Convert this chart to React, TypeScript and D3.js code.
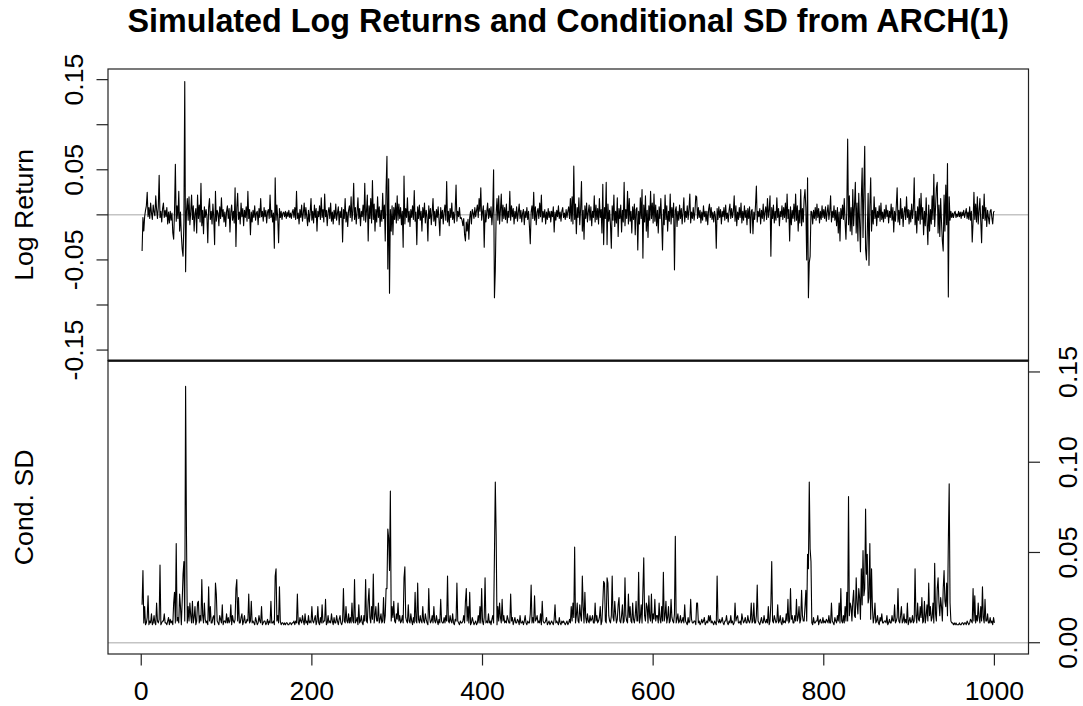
import React, { useEffect } from "react";
import * as d3 from "d3";

const chartTitle = "Simulated Log Returns and Conditional SD from ARCH(1)";
const topAxisTitle = "Log Return";
const bottomAxisTitle = "Cond. SD";
const xTicks = [0, 200, 400, 600, 800, 1000];
const returnTicks = [-0.15, -0.1, -0.05, 0, 0.05, 0.1, 0.15];
const returnTickLabels = ["-0.15", "", "-0.05", "", "0.05", "", "0.15"];
const sdTicks = [0, 0.05, 0.1, 0.15];
const sdTickLabels = ["0.00", "0.05", "0.10", "0.15"];

// simulated log returns, in units of 0.001 (t = 1..1000)
const logReturnPermille = [
  -40, -3, -18, -2, 5, 10, 25, -2, 8, -4, 13, 2, -5, 11, 3, -1, 21, 6, -4, 9, 44, -3, 4, -8, 7,
  13, -3, 5, -2, 8, -10, 3, -9, 4, -6, 2, -20, -27, 4, 56, -7, 10, -4, 26, -18, 3, -22, -38, -46, -8,
  148, -63, 4, 18, -6, 20, -11, 3, 22, -5, 10, -18, 2, 7, -20, 22, -4, 11, -8, 35, -12, 5, -21, 9, -3,
  6, -2, -31, 8, 18, -5, 4, -10, 12, -3, -33, 26, -7, 5, 2, -12, 9, -4, 19, -2, 6, -8, 3, -13, 4,
  10, -4, 7, -19, 3, 11, -6, 4, -9, 30, -35, 8, 24, -5, 3, -10, 13, -2, 7, -12, 5, -3, 9, -7, 26,
  -4, 6, -22, 3, -8, 5, -3, 10, -6, 2, 4, -11, 7, -3, 18, -2, 4, -7, 8, -2, 5, -9, 3, 6, -4,
  22, -3, 5, -8, 2, -37, 41, -6, 11, -4, -31, 7, -3, 4, -5, 2, 3, -2, 4, -4, 3, -2, 5, -3, 2,
  -4, 3, 6, -3, 8, -5, 26, -4, 2, -10, 6, -3, 11, -7, 2, 13, -4, 8, -2, -12, 5, -8, 3, 18, -6,
  4, -9, 11, -3, 7, -18, 4, -2, 10, -5, 19, -3, 6, -8, 23, -2, 5, -12, 3, 8, -4, 13, -7, 3, -10,
  5, -4, 12, -6, 2, 9, -11, 4, -3, 8, -30, 6, -4, 18, -8, 3, -13, 5, 10, -3, 20, -7, 4, 35, -5,
  8, -10, 3, 19, -4, 7, -12, 4, -2, 11, -6, 35, -8, 4, 22, -29, 10, -4, 18, -9, 38, -5, 12, -18, 6,
  -8, 20, -3, 9, -13, 5, -7, 24, -4, 11, -29, 30, 65, -60, 40, -87, 6, -18, 10, -22, 8, -5, 13, -9, 21,
  -6, 12, -4, 8, -11, 4, -36, 43, -10, 7, -3, 19, -8, 4, -13, 6, -3, 10, -5, 27, -7, 3, -33, 9, -4,
  11, -6, 4, -18, 8, -3, 13, -9, 5, -2, -29, 10, -4, 7, -11, 3, 18, -7, 4, -12, 6, -3, 9, -5, -23,
  8, -4, 5, -10, 3, 11, -6, 37, -8, 4, -12, 7, -3, 13, -5, 3, -9, 6, 33, -7, 4, -2, 8, -4, -3,
  -6, -12, -4, -22, -29, -8, -18, -5, -27, -3, 4, -10, 6, 2, -4, 8, -2, 5, 11, -3, 18, 4, 30, -6, 3,
  10, -36, 5, -8, 3, 13, -4, 7, -3, 9, -11, 4, 50, -92, -62, 2, 18, -6, 21, -10, 5, 23, -7, 11, -4,
  8, -5, 12, -9, 4, -3, 26, -6, 10, -2, 7, -10, 4, -4, 9, -7, 3, 12, -4, 5, -8, 2, 6, -11, 4,
  -3, 8, -5, 4, -13, -32, 3, 10, -4, 25, -6, 9, -11, 3, 7, -4, 13, -2, 22, -8, 4, -3, 6, -10, 3,
  -5, 7, -3, 4, -8, 4, -2, 9, -19, 3, -6, 5, -2, 10, -4, 3, -7, 4, 8, -3, 2, -5, 6, -3, 4,
  9, -4, 18, -7, 20, -10, 54, -5, 12, -21, 8, -3, 19, -11, 6, 37, -18, 5, -27, 10, -4, 13, -8, 3, 11,
  -6, 9, -12, 4, -3, 21, -8, 11, -5, 7, -10, 18, -3, 6, -20, 34, -33, 8, -4, 36, -33, 12, -7, 5, -11,
  -37, 10, -6, 22, -13, 4, -9, 19, -24, 7, -4, 11, -19, 5, -8, 36, -12, 6, -4, 26, -10, 18, -7, 4, -20,
  9, -5, 12, -22, 6, 8, -39, 4, -10, 19, -4, 28, -48, 11, -8, 21, -18, 5, -25, 10, -6, 26, -4, 13, -9,
  23, -7, 11, -12, 5, -20, 9, -4, 18, -8, -39, 6, -11, 22, -5, 10, -18, 4, -7, 23, -10, 8, -3, 13, -61,
  5, 9, -13, 4, -6, 11, -4, 7, -10, 3, 19, -8, 4, -3, 10, -5, 6, 23, -9, 3, -4, 8, -6, 3, 21,
  20, -4, 8, -3, 5, -9, 3, -6, 10, -2, 4, -7, 4, -11, 6, 12, -3, 8, -5, 3, -8, 4, -2, -37, 7,
  -5, 9, -3, 6, -10, 4, -2, 8, -6, 11, -4, 2, -8, 5, 12, -4, 7, -3, 4, 21, -7, 10, -12, 3, -5,
  8, -3, 13, -9, 4, -6, 10, -3, 5, -11, 7, -4, 9, -20, 4, 6, -21, 3, -5, 11, 32, -8, 4, -2, 7,
  -10, 5, -4, 12, -7, 3, 9, -5, 18, -3, 6, 21, -46, 8, -4, 11, -9, 4, -6, 19, -3, 7, -12, 4, -2,
  10, -5, 8, -3, 13, -8, 23, -4, 6, -29, 9, -11, 5, -4, 12, -7, 23, -6, 10, -18, 5, -9, 28, -12, 7,
  -8, 18, 28, 8, -50, 41, -92, -53, -46, 4, 3, -10, 5, -4, 8, -6, 12, -3, 7, -9, 4, -5, 10, -3, 6,
  -4, 9, -7, 3, 11, -5, 4, 21, -8, 4, -3, 10, -6, 5, -12, 8, -20, 3, -29, 7, -4, 11, -5, 18, -8,
  -27, 6, 84, -11, 21, -18, 8, -22, 28, -12, 10, 36, -20, 13, -29, 24, -9, -41, 19, 52, -25, 30, 76, -38, -50,
  -20, 24, -56, 9, 41, -18, 5, -10, 20, -4, 8, -12, 4, -3, 10, -7, 13, -5, 3, -8, 6, -4, 11, -2, 5,
  -9, 4, -3, 12, -6, 8, -19, 4, -7, 10, 30, -8, 5, -11, 18, -4, 7, -13, 3, 9, -5, 20, -3, 6, -10,
  5, -8, 12, -4, 7, 41, -11, 4, -20, 9, -6, 18, -10, 24, -5, 8, -22, 4, -12, 19, -7, -33, 11, -18, 6,
  -10, 21, -5, 45, -13, 8, 30, 36, -20, 11, -24, 18, -8, -29, -40, 22, -18, 33, -11, 57, -91, 20, -6, 4, -3,
  2, -3, 2, 4, -3, 1, -2, 4, -2, 3, -4, 3, -1, 5, -3, 2, 7, -4, 3, -5, 9, -6, 4, -30, -8,
  25, -5, 12, -8, 20, -10, 4, 18, -7, -31, 10, -4, 23, -6, 8, -13, 5, -3, -10, 4, 6, -3, -10, 3, 4,
];

// conditional standard deviation, in units of 0.001 (t = 1..1000)
const condSdPermille = [
  21, 40, 11, 20, 10, 11, 14, 26, 10, 12, 11, 16, 10, 11, 15, 11, 10, 22, 12, 11, 13, 43, 10, 11, 12,
  12, 16, 11, 11, 10, 12, 14, 10, 13, 11, 12, 10, 22, 28, 11, 55, 12, 14, 11, 27, 20, 10, 23, 38, 45,
  12, 142, 61, 11, 20, 12, 22, 15, 11, 23, 11, 14, 20, 10, 12, 22, 23, 11, 15, 12, 35, 15, 11, 22, 13,
  11, 12, 10, 31, 12, 20, 11, 11, 14, 15, 10, 33, 27, 12, 11, 10, 15, 13, 11, 21, 10, 12, 12, 11, 16,
  11, 14, 11, 12, 21, 10, 15, 12, 11, 13, 30, 35, 12, 25, 11, 11, 14, 16, 10, 12, 15, 11, 11, 13, 12,
  27, 11, 12, 23, 11, 12, 11, 10, 14, 12, 10, 11, 15, 12, 11, 20, 10, 11, 12, 12, 10, 11, 13, 10, 12,
  11, 23, 11, 11, 12, 10, 37, 41, 12, 15, 11, 31, 12, 10, 11, 11, 10, 11, 10, 11, 11, 10, 10, 11, 11,
  10, 11, 11, 12, 10, 12, 11, 27, 11, 10, 14, 12, 11, 15, 12, 10, 16, 11, 12, 10, 15, 11, 12, 11, 20,
  12, 11, 13, 15, 10, 12, 20, 11, 10, 14, 11, 21, 11, 12, 12, 24, 10, 11, 15, 11, 12, 11, 16, 12, 10,
  14, 11, 11, 15, 12, 10, 13, 15, 11, 10, 12, 30, 12, 11, 20, 12, 11, 16, 11, 14, 11, 22, 12, 11, 35,
  11, 12, 14, 10, 21, 11, 12, 15, 11, 10, 15, 12, 35, 12, 11, 23, 30, 14, 11, 20, 13, 38, 11, 15, 20,
  12, 12, 22, 11, 13, 16, 11, 12, 25, 11, 15, 30, 30, 63, 58, 40, 84, 12, 20, 14, 23, 12, 11, 16, 13,
  22, 12, 15, 11, 12, 15, 11, 36, 42, 14, 12, 11, 21, 12, 11, 16, 12, 10, 14, 11, 28, 12, 11, 33, 13,
  11, 15, 12, 11, 20, 12, 11, 16, 13, 11, 10, 30, 14, 11, 12, 15, 11, 20, 12, 11, 15, 12, 10, 13, 11,
  24, 12, 11, 11, 14, 11, 15, 12, 37, 12, 11, 15, 12, 11, 16, 11, 10, 13, 12, 33, 12, 11, 10, 12, 11,
  11, 12, 15, 11, 23, 30, 12, 20, 11, 28, 10, 11, 14, 12, 10, 11, 12, 10, 11, 15, 11, 20, 11, 30, 12,
  10, 14, 36, 11, 12, 11, 16, 11, 12, 10, 13, 15, 11, 49, 89, 60, 10, 20, 12, 22, 14, 11, 24, 12, 15,
  11, 12, 11, 15, 13, 11, 11, 27, 12, 14, 10, 12, 14, 11, 11, 13, 12, 10, 15, 11, 11, 12, 10, 12, 15,
  11, 10, 12, 11, 11, 16, 32, 11, 14, 11, 26, 12, 13, 15, 11, 12, 11, 16, 10, 23, 12, 11, 11, 12, 14,
  10, 11, 12, 10, 11, 12, 11, 10, 13, 21, 11, 12, 11, 10, 14, 11, 10, 12, 11, 12, 11, 10, 11, 12, 10,
  11, 13, 11, 20, 12, 22, 14, 53, 11, 15, 22, 12, 11, 21, 15, 12, 37, 20, 11, 28, 14, 11, 16, 12, 11,
  15, 12, 13, 15, 11, 11, 22, 12, 15, 11, 12, 14, 20, 10, 12, 22, 34, 33, 12, 11, 36, 33, 15, 12, 11,
  15, 37, 14, 12, 23, 16, 11, 13, 21, 25, 12, 11, 15, 21, 11, 12, 36, 15, 12, 11, 27, 14, 20, 12, 11,
  22, 13, 11, 15, 23, 12, 12, 39, 11, 14, 21, 11, 29, 47, 15, 12, 22, 20, 11, 26, 14, 12, 27, 11, 16,
  13, 24, 12, 15, 15, 11, 22, 13, 11, 20, 12, 39, 12, 15, 23, 11, 14, 20, 11, 12, 24, 14, 12, 11, 16,
  59, 11, 13, 16, 11, 12, 15, 11, 12, 14, 11, 21, 12, 11, 10, 14, 11, 12, 24, 13, 11, 11, 12, 12, 10,
  22, 22, 11, 12, 10, 11, 13, 11, 12, 14, 10, 11, 12, 11, 15, 12, 15, 11, 12, 11, 10, 12, 11, 10, 37,
  12, 11, 13, 11, 12, 14, 11, 10, 12, 12, 15, 11, 10, 12, 11, 15, 11, 12, 10, 11, 22, 12, 14, 15, 11,
  11, 12, 10, 16, 13, 11, 12, 14, 11, 11, 15, 12, 11, 13, 22, 11, 12, 22, 11, 11, 15, 32, 12, 11, 10,
  12, 14, 11, 11, 15, 12, 11, 13, 11, 20, 10, 12, 22, 45, 12, 11, 15, 13, 11, 12, 21, 11, 12, 15, 11,
  10, 14, 11, 12, 11, 16, 12, 24, 11, 12, 30, 13, 15, 11, 11, 15, 12, 24, 12, 14, 20, 11, 13, 29, 15,
  12, 12, 20, 29, 12, 49, 41, 89, 52, 45, 11, 10, 14, 11, 11, 12, 12, 15, 10, 12, 13, 11, 11, 14, 11,
  12, 11, 13, 12, 11, 15, 11, 11, 22, 12, 11, 10, 14, 12, 11, 15, 12, 22, 11, 30, 12, 11, 15, 11, 20,
  12, 28, 12, 81, 15, 22, 20, 12, 23, 29, 15, 14, 36, 22, 16, 30, 25, 13, 41, 21, 51, 26, 30, 74, 38,
  49, 22, 25, 55, 13, 41, 20, 11, 14, 22, 11, 12, 15, 11, 10, 14, 12, 16, 11, 11, 12, 12, 11, 15, 10,
  11, 13, 11, 11, 15, 12, 12, 21, 11, 12, 14, 30, 12, 11, 15, 20, 11, 12, 16, 11, 13, 11, 22, 10, 12,
  14, 11, 12, 15, 11, 12, 41, 15, 11, 22, 13, 12, 20, 14, 25, 11, 12, 23, 11, 15, 21, 12, 33, 15, 20,
  12, 14, 22, 11, 44, 16, 12, 30, 36, 22, 15, 25, 20, 12, 30, 40, 23, 20, 33, 15, 56, 88, 22, 12, 11,
  11, 10, 11, 10, 11, 10, 10, 10, 11, 10, 10, 11, 11, 10, 11, 11, 10, 12, 11, 10, 11, 13, 12, 11, 30,
  12, 26, 11, 15, 12, 22, 14, 11, 20, 12, 31, 14, 11, 24, 12, 12, 16, 11, 11, 14, 11, 12, 10, 14, 11,
];

const FONT = "'Liberation Sans', Arial, Helvetica, sans-serif";

export default function App() {
  useEffect(() => {
    document.body.style.margin = "0";
  }, []);

  const W = 1083;
  const H = 706;
  const L = 108;
  const R = 1028.5;
  const T = 69;
  const M = 360.7;
  const B = 654;

  const x = d3.scaleLinear().domain([-38.96, 1039.96]).range([L, R]);
  const yTop = d3.scaleLinear().domain([-0.1618, 0.1618]).range([M, T]);
  const yBot = d3.scaleLinear().domain([-0.00624, 0.15624]).range([B, M]);

  const retData = logReturnPermille.map((v, i) => ({ t: i + 1, v: v / 1000 }));
  const sdData = condSdPermille.map((v, i) => ({ t: i + 1, v: v / 1000 }));

  const lineTop = d3
    .line<{ t: number; v: number }>()
    .x((d) => x(d.t))
    .y((d) => yTop(d.v));
  const lineBot = d3
    .line<{ t: number; v: number }>()
    .x((d) => x(d.t))
    .y((d) => yBot(d.v));

  const fs = 26.7;
  const tick = 11.5;

  return (
    <svg
      width={W}
      height={H}
      viewBox={`0 0 ${W} ${H}`}
      style={{ display: "block", background: "#fff" }}
      fontFamily={FONT}
    >
      <rect x={0} y={0} width={W} height={H} fill="#ffffff" />
      <text
        x={(L + R) / 2}
        y={32}
        textAnchor="middle"
        fontSize={32.3}
        fontWeight="bold"
        fill="#000"
      >
        {chartTitle}
      </text>

      {/* reference lines at zero */}
      <line x1={L} x2={R} y1={yTop(0)} y2={yTop(0)} stroke="#c4c4c4" strokeWidth={1.5} />
      <line x1={L} x2={R} y1={yBot(0)} y2={yBot(0)} stroke="#c4c4c4" strokeWidth={1.5} />

      {/* series */}
      <path d={lineTop(retData) || ""} fill="none" stroke="#000" strokeWidth={1.1} strokeLinejoin="round" />
      <path d={lineBot(sdData) || ""} fill="none" stroke="#000" strokeWidth={1.1} strokeLinejoin="round" />

      {/* boxes */}
      <rect x={L} y={T} width={R - L} height={M - T} fill="none" stroke="#222" strokeWidth={1.2} />
      <rect x={L} y={M} width={R - L} height={B - M} fill="none" stroke="#222" strokeWidth={1.2} />
      <line x1={L} x2={R} y1={M} y2={M} stroke="#111" strokeWidth={2.2} />

      {/* left axis (top panel) */}
      {returnTicks.map((v, i) => (
        <g key={`rt${i}`}>
          <line x1={L - tick} x2={L} y1={yTop(v)} y2={yTop(v)} stroke="#222" strokeWidth={1.2} />
          {returnTickLabels[i] && (
            <text
              transform={`translate(83,${yTop(v)}) rotate(-90)`}
              textAnchor="middle"
              fontSize={fs}
              fill="#000"
            >
              {returnTickLabels[i]}
            </text>
          )}
        </g>
      ))}
      <text
        transform={`translate(33,${(T + M) / 2}) rotate(-90)`}
        textAnchor="middle"
        fontSize={fs}
        fill="#000"
      >
        {topAxisTitle}
      </text>

      {/* right axis (bottom panel) */}
      {sdTicks.map((v, i) => (
        <g key={`st${i}`}>
          <line x1={R} x2={R + tick} y1={yBot(v)} y2={yBot(v)} stroke="#222" strokeWidth={1.2} />
          <text
            transform={`translate(1077,${yBot(v)}) rotate(-90)`}
            textAnchor="middle"
            fontSize={fs}
            fill="#000"
          >
            {sdTickLabels[i]}
          </text>
        </g>
      ))}
      <text
        transform={`translate(33,${(M + B) / 2}) rotate(-90)`}
        textAnchor="middle"
        fontSize={fs}
        fill="#000"
      >
        {bottomAxisTitle}
      </text>

      {/* bottom x axis */}
      {xTicks.map((v) => (
        <g key={`xt${v}`}>
          <line x1={x(v)} x2={x(v)} y1={B} y2={B + tick} stroke="#222" strokeWidth={1.2} />
          <text x={x(v)} y={700} textAnchor="middle" fontSize={fs} fill="#000">
            {String(v)}
          </text>
        </g>
      ))}
    </svg>
  );
}
